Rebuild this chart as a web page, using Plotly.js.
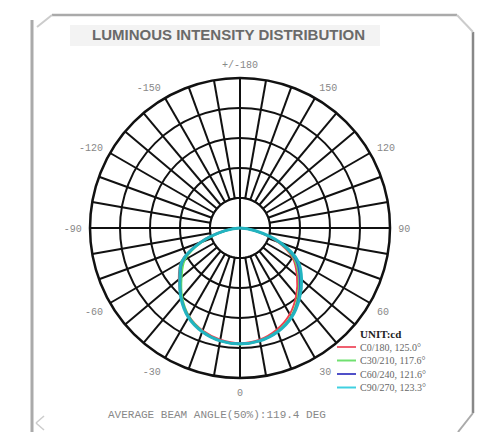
<!DOCTYPE html>
<html>
<head>
<meta charset="utf-8">
<script src="https://cdn.plot.ly/plotly-3.0.1.min.js"></script>
<style>html,body{margin:0;padding:0;background:#fff;}#chart{width:480px;height:432px;}</style>
</head>
<body>
<div id="chart"></div>
<script>
// Data (intensity in cd vs. gamma angle in degrees)
const angles   = [-90,-80,-70,-60,-50,-40,-30,-20,-10,0,10,20,30,40,50,60,70,80,90];
const c0_180   = [0,27,72,113,133,152,170,182,189,192,189,180,166,146,124,102,66,24,0];
const c30_210  = [0,22,66,106,127,150,170,183,191,194,191,183,170,150,128,105,68,23,0];
const c60_240  = [0,24,69,110,130,152,171,184,191,193,191,184,171,152,130,108,70,25,0];
const c90_270  = [0,25,70,112,131,153,172,184,191,193,191,184,172,154,134,112,72,26,0];
const seriesNames  = ['C0/180, 125.0°','C30/210, 117.6°','C60/240, 121.6°','C90/270, 123.3°'];
const seriesColors = ['#f04050','#60e060','#4848c8','#22b4c0'];
const legendColors = ['#f06070','#70e070','#5050c8','#40d0e0'];
const seriesWidths = [2,2,2,3];
const labelMap = {0:'0',30:'30',60:'60',90:'90',120:'120',150:'150',180:'+/-180',210:'-150',240:'-120',270:'-90',300:'-60',330:'-30'};
const unitText = 'UNIT:cd';
const titleText = 'LUMINOUS INTENSITY DISTRIBUTION';
const footText = 'AVERAGE BEAM ANGLE(50%):119.4 DEG';

const tickVals = [];
for (let a = 0; a < 360; a += 10) tickVals.push(a);
const tickText = tickVals.map(v => labelMap[v] !== undefined ? labelMap[v] : '');
const rMax = 250, rStep = 50, innerR = 50;

const ringTheta = [];
for (let a = 0; a <= 360; a += 5) ringTheta.push(a);

const traces = [
  {type:'scatterpolar', r: ringTheta.map(() => innerR), theta: ringTheta, mode:'lines',
   fill:'toself', fillcolor:'#ffffff', line:{color:'#111', width:2}, showlegend:false, hoverinfo:'skip'},
  {type:'scatterpolar', r:[innerR,0,innerR], theta:[0,0,180], mode:'lines', line:{color:'#111',width:2}, showlegend:false, hoverinfo:'skip'},
  {type:'scatterpolar', r:[innerR,0,innerR], theta:[90,0,270], mode:'lines', line:{color:'#111',width:2}, showlegend:false, hoverinfo:'skip'}
];
const allSeries = [c0_180, c30_210, c60_240, c90_270];
allSeries.forEach((s, i) => {
  traces.push({type:'scatterpolar', r:s, theta:angles, mode:'lines', name:seriesNames[i], showlegend:false,
    line:{color:seriesColors[i], width:seriesWidths[i], shape:'spline', smoothing:1}});
});

// manual compact legend
const P = (px) => px/480, Q = (py) => 1 - py/432;
const legShapes = [], legAnn = [];
const rowY0 = 347, rowDY = 13.5;
seriesNames.forEach((n, i) => {
  const y = rowY0 + i*rowDY;
  legShapes.push({type:'line', xref:'paper', yref:'paper', x0:P(337), x1:P(356), y0:Q(y), y1:Q(y),
    line:{color:legendColors[i], width:2}});
  legAnn.push({text:n, xref:'paper', yref:'paper', x:P(358), y:Q(y), xanchor:'left', yanchor:'middle',
    showarrow:false, font:{family:'Liberation Serif', size:10, color:'#666'}});
});
legAnn.push({text:'<b>'+unitText+'</b>', xref:'paper', yref:'paper', x:P(380), y:Q(334), xanchor:'center', yanchor:'middle',
  showarrow:false, font:{family:'Liberation Serif', size:11, color:'#222'}});

const layout = {
  width:480, height:432,
  margin:{l:0,r:0,t:0,b:0},
  paper_bgcolor:'#ffffff',
  showlegend:false,
  polar:{
    domain:{x:[P(90), P(390)], y:[54/432, 354/432]},
    bgcolor:'#ffffff',
    radialaxis:{range:[0,rMax], dtick:rStep, showticklabels:false, ticks:'', showline:false,
      gridcolor:'#111', gridwidth:2},
    angularaxis:{rotation:-90, direction:'counterclockwise', tickmode:'array',
      tickvals:tickVals, ticktext:tickText, ticks:'outside', ticklen:5, tickcolor:'rgba(0,0,0,0)',
      showline:true, linecolor:'#111', linewidth:2.5,
      gridcolor:'#111', gridwidth:2,
      tickfont:{family:'Liberation Mono', size:10, color:'#888'}}
  },
  shapes:[
    {type:'rect', xref:'paper', yref:'paper', x0:P(70), x1:P(380), y0:Q(46), y1:Q(25), fillcolor:'#f3f3f3', line:{width:0}, layer:'below'},
    {type:'line', xref:'paper', yref:'paper', x0:P(52), x1:P(457), y0:Q(15), y1:Q(15), line:{color:'#aaa', width:2.5}},
    {type:'line', xref:'paper', yref:'paper', x0:P(32), x1:P(32), y0:Q(20), y1:0, line:{color:'#aaa', width:3}},
    {type:'line', xref:'paper', yref:'paper', x0:P(473), x1:P(473), y0:Q(32), y1:Q(413), line:{color:'#888', width:2.5}},
    {type:'line', xref:'paper', yref:'paper', x0:P(37), x1:P(52), y0:Q(27), y1:Q(15), line:{color:'#ccc', width:2}},
    {type:'line', xref:'paper', yref:'paper', x0:P(457), x1:P(473), y0:Q(15), y1:Q(32), line:{color:'#ccc', width:2}},
    {type:'line', xref:'paper', yref:'paper', x0:P(458), x1:P(473), y0:0, y1:Q(413), line:{color:'#aaa', width:2}},
    {type:'line', xref:'paper', yref:'paper', x0:P(36), x1:P(44), y0:Q(423), y1:Q(416), line:{color:'#ccc', width:1.5}},
    {type:'line', xref:'paper', yref:'paper', x0:P(36), x1:P(44), y0:Q(423), y1:Q(430), line:{color:'#ccc', width:1.5}}
  ].concat(legShapes),
  annotations:[
    {text:'<b>'+titleText+'</b>', xref:'paper', yref:'paper', x:P(228), y:Q(35), xanchor:'center', yanchor:'middle',
     showarrow:false, font:{family:'Liberation Sans', size:15, color:'#6a6a6a'}},
    {text:footText, xref:'paper', yref:'paper', x:P(217), y:Q(415), xanchor:'center', yanchor:'middle',
     showarrow:false, font:{family:'Liberation Mono', size:11, color:'#888'}}
  ].concat(legAnn)
};
Plotly.newPlot('chart', traces, layout, {displayModeBar:false, staticPlot:true});
</script>
</body>
</html>
